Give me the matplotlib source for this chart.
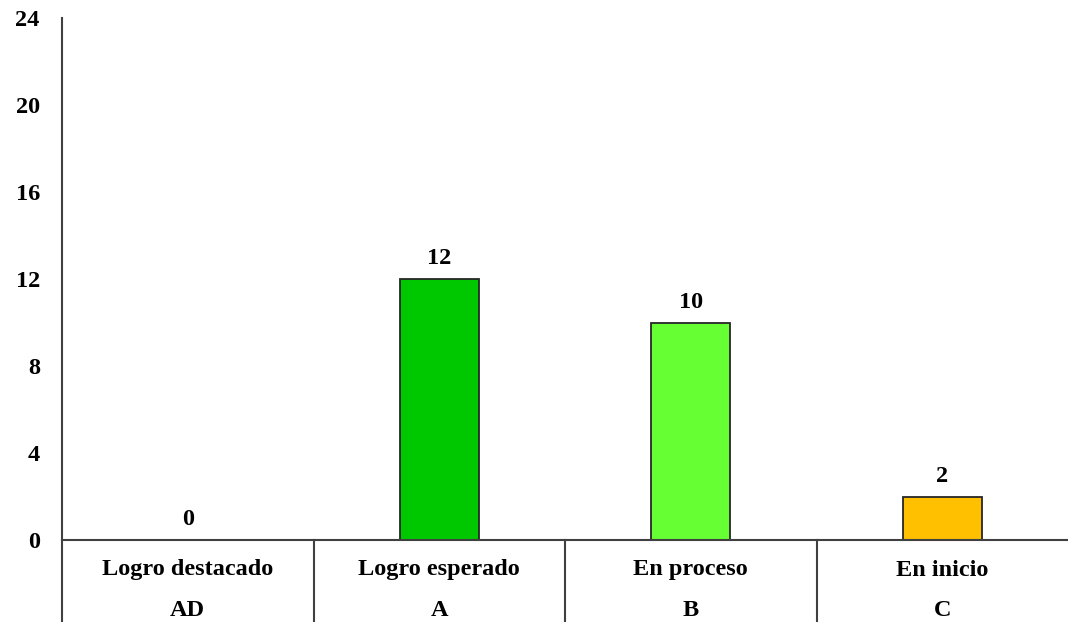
import matplotlib
matplotlib.use("Agg")
import matplotlib.pyplot as plt
from matplotlib.transforms import blended_transform_factory

categories = ["Logro destacado", "Logro esperado", "En proceso", "En inicio"]
codes = ["AD", "A", "B", "C"]
values = [0, 12, 10, 2]
colors = ["#00C800", "#00C800", "#66FF33", "#FFC000"]
yticks = [0, 4, 8, 12, 16, 20, 24]

plt.rcParams['font.family'] = ['Liberation Serif', 'DejaVu Serif']
plt.rcParams['font.weight'] = 'bold'
FS = 17.5

fig = plt.figure(figsize=(10.68, 6.22), dpi=100)
ax = fig.add_axes([62/1068, 82/622, 1 - 62/1068, (540-18)/622])

x = [i + 0.5 for i in range(len(categories))]
for xi, v, c in zip(x, values, colors):
    if v > 0:
        ax.bar(xi, v, width=0.315, color=c, edgecolor="#262626", linewidth=1.3, zorder=2)
    ax.annotate(str(v), (xi, v), xytext=(0, 7), textcoords="offset points",
                ha="center", va="bottom", fontsize=FS, fontweight="bold")

ax.set_xlim(0, 4)
ax.set_ylim(0, 24)
ax.set_yticks(yticks)
ax.set_yticklabels([str(t) for t in yticks], fontsize=FS, fontweight="bold")
ax.tick_params(axis="y", length=0, pad=16)
ax.set_xticks([])
for s in ["top", "right"]:
    ax.spines[s].set_visible(False)
ax.spines["left"].set_color("#404040")
ax.spines["left"].set_linewidth(1.5)
ax.spines["bottom"].set_color("#404040")
ax.spines["bottom"].set_linewidth(1.5)

trans = blended_transform_factory(ax.transData, ax.transAxes)
ybot = -82 / (540 - 18)
for i in range(len(categories)):
    ax.plot([i, i], [0, ybot], transform=trans, color="#404040", lw=1.5, clip_on=False)
    ax.text(i + 0.5, -30/522, categories[i], transform=trans, ha="center", va="center",
            fontsize=FS, fontweight="bold")
    ax.text(i + 0.5, -70/522, codes[i], transform=trans, ha="center", va="center",
            fontsize=FS, fontweight="bold")

fig.savefig("out.png", dpi=100)
